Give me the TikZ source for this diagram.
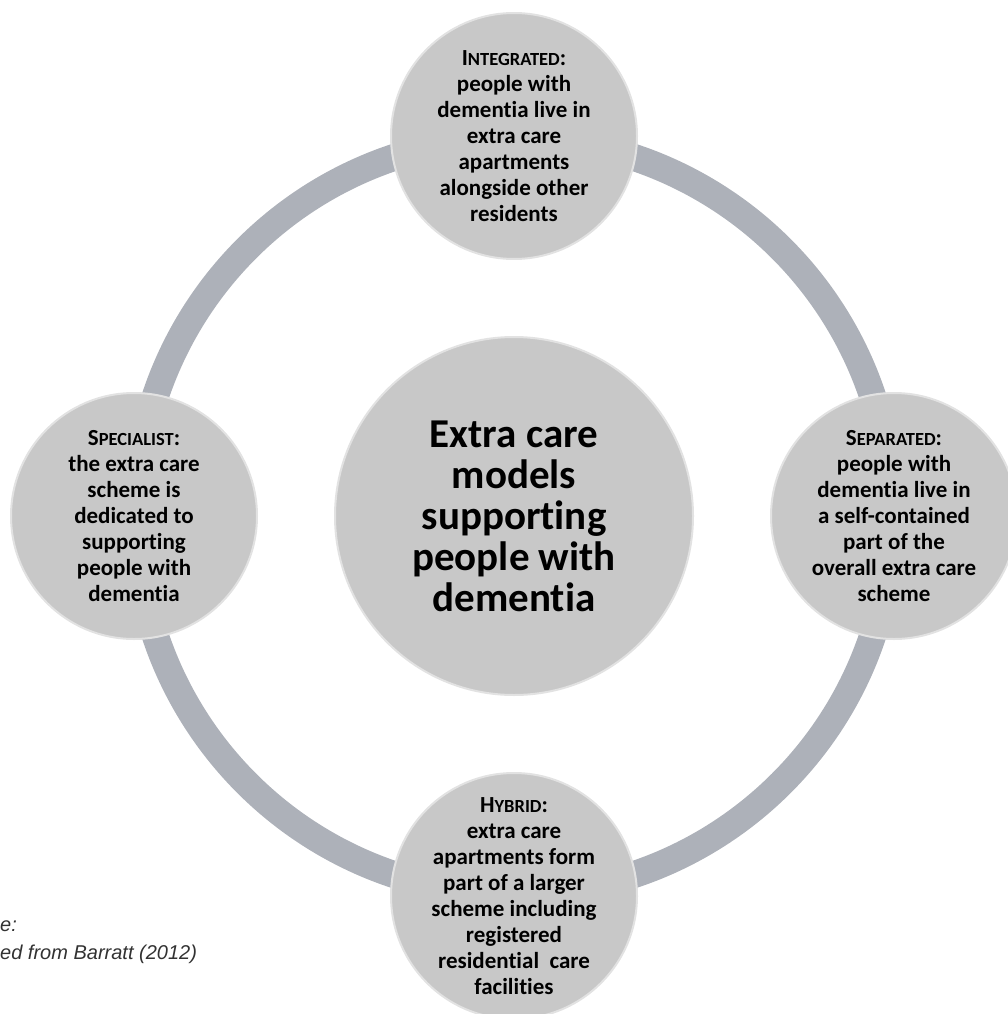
\documentclass[tikz,border=0pt]{standalone}
\usepackage{fontspec}
\setmainfont{Carlito}[Ligatures={NoCommon,NoRare,NoContextual}]
\newfontfamily\notefont{Liberation Sans}
\usetikzlibrary{positioning}
\definecolor{ringgrey}{RGB}{173,177,185}
\definecolor{discgrey}{RGB}{200,200,200}
\definecolor{rimgrey}{RGB}{226,226,226}
\definecolor{notegrey}{RGB}{50,50,50}
\tikzstyle{model} = [circle,fill=discgrey,draw=rimgrey,line width=2pt,minimum size=246pt,inner sep=-20pt,align=center,font=\bfseries\fontsize{23}{26}\selectfont]
\tikzstyle{hub} = [model,minimum size=358pt,font=\bfseries\fontsize{41}{41}\selectfont]
\tikzstyle{note} = [anchor=base west,inner sep=0pt,text=notegrey,font=\notefont\itshape\fontsize{20}{28}\selectfont]
\newcommand{\capsc}[2]{#1{\fontsize{18.5}{26}\selectfont #2}}

\begin{document}
\begin{tikzpicture}[x=1pt,y=-1pt,node distance=76pt]
\useasboundingbox (0,0) rectangle (1008,1014);
\coordinate (mid) at (514,516);

%Ring
\draw[ringgrey,line width=27pt] (mid) circle (378pt);

%Nodes
\node[hub] (Core) at (mid) {Extra care\\models\\supporting\\people with\\dementia};
\node[model, above=of Core] (Integ) {\capsc{I}{NTEGRATED}:\\people with\\dementia live in\\extra care\\apartments\\alongside other\\residents};
\node[model, right=of Core] (Separ) {\capsc{S}{EPARATED}:\\people with\\dementia live in\\a self-contained\\part of the\\overall extra care\\scheme};
\node[model, below=of Core] (Hybr) {\capsc{H}{YBRID}:\\extra care\\apartments form\\part of a larger\\scheme including\\registered\\residential\ \ care\\facilities};
\node[model, left=of Core] (Spec) {\capsc{S}{PECIALIST}:\\the extra care\\scheme is\\dedicated to\\supporting\\people with\\dementia};

%Source
\node[note] (srcA) at (0,931) {e:};
\node[note] (srcB) at (0,959) {ed from Barratt (2012)};

\end{tikzpicture}
\end{document}
